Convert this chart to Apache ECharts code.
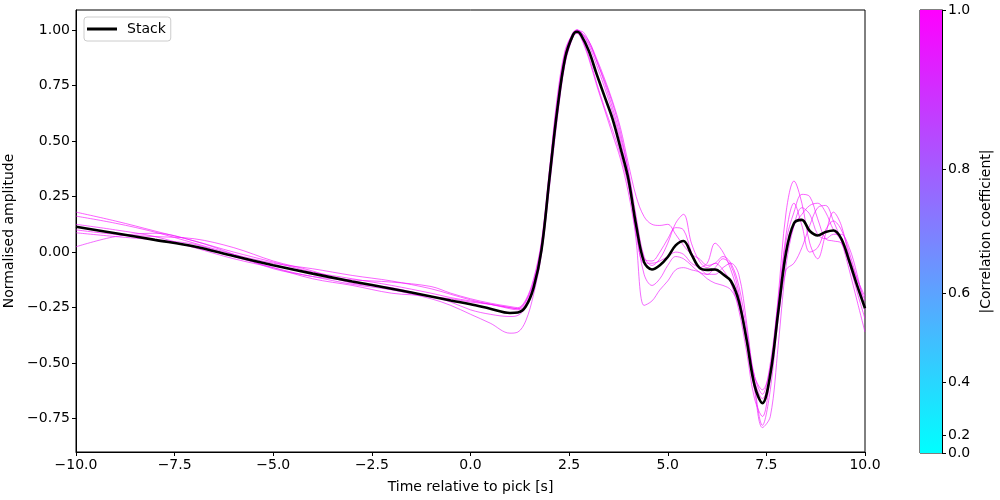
<!DOCTYPE html>
<html>
<head>
<meta charset="utf-8">
<script src="https://cdn.jsdelivr.net/npm/echarts@6/dist/echarts.min.js"></script>
<style>
html,body{margin:0;padding:0;background:#fff;}
#chart{width:1000px;height:500px;}
</style>
</head>
<body>
<div id="chart"></div>
<script>
// Time axis (s relative to pick)
const times = [-10,-9,-8,-7,-6,-5,-4,-3,-2,-1,-0.5,0,0.5,1.0,
  1.2,1.4,1.6,1.8,2.0,2.2,2.4,2.6,2.7,2.8,3.0,3.2,3.4,3.6,3.8,4.0,4.2,4.4,4.6,4.8,5.0,
  5.2,5.4,5.6,5.8,6.0,6.2,6.4,6.6,6.8,7.0,7.2,7.4,7.6,7.8,8.0,8.2,8.4,8.6,8.8,9.0,
  9.2,9.4,9.6,9.8,10.0];

const stack = [0.114,0.085,0.055,0.025,-0.018,-0.059,-0.097,-0.132,-0.165,-0.200,-0.218,-0.235,-0.255,-0.274,
  -0.272,-0.245,-0.16,0.01,0.33,0.64,0.875,0.978,0.992,0.978,0.905,0.80,0.70,0.60,0.47,0.33,0.12,-0.045,-0.078,-0.059,-0.022,
  0.03,0.05,-0.01,-0.07,-0.08,-0.078,-0.10,-0.13,-0.22,-0.396,-0.60,-0.68,-0.55,-0.27,0.0,0.13,0.145,0.095,0.075,0.09,
  0.097,0.06,-0.04,-0.15,-0.253];

const traceA = [0.18,0.14,0.095,0.05,0.0,-0.045,-0.09,-0.12,-0.15,-0.185,-0.205,-0.22,-0.235,-0.255,
  -0.26,-0.235,-0.15,0.03,0.36,0.68,0.90,0.985,1.0,0.99,0.94,0.86,0.76,0.65,0.52,0.37,0.16,-0.02,-0.06,-0.03,0.04,
  0.13,0.17,0.04,-0.04,-0.07,-0.05,-0.08,-0.14,-0.26,-0.45,-0.66,-0.74,-0.55,-0.20,0.18,0.32,0.22,0.04,-0.03,0.08,
  0.18,0.12,-0.02,-0.12,-0.20];
const traceB = [0.162,0.13,0.09,0.04,-0.01,-0.05,-0.075,-0.105,-0.13,-0.165,-0.19,-0.215,-0.235,-0.25,
  -0.255,-0.22,-0.13,0.04,0.34,0.66,0.89,0.99,1.0,0.99,0.95,0.87,0.78,0.68,0.56,0.40,0.25,0.16,0.125,0.12,0.125,
  0.08,0.03,-0.01,-0.03,-0.06,-0.05,-0.02,-0.05,-0.15,-0.35,-0.56,-0.64,-0.50,-0.22,0.05,0.18,0.26,0.25,0.15,0.06,
  0.05,0.04,-0.05,-0.15,-0.24];
const traceC = [0.125,0.10,0.07,0.02,-0.03,-0.07,-0.11,-0.125,-0.135,-0.155,-0.185,-0.21,-0.23,-0.245,
  -0.25,-0.215,-0.12,0.05,0.37,0.70,0.91,0.985,0.995,0.97,0.88,0.76,0.65,0.55,0.44,0.30,0.12,-0.03,-0.04,0.0,0.06,
  0.11,0.10,0.0,-0.07,-0.05,0.04,0.0,-0.08,-0.20,-0.38,-0.56,-0.62,-0.52,-0.26,-0.02,0.12,0.17,0.21,0.22,0.18,
  0.10,0.05,-0.05,-0.18,-0.30];
const traceD = [0.10,0.08,0.07,0.06,0.02,-0.04,-0.085,-0.14,-0.16,-0.20,-0.21,-0.225,-0.235,-0.25,
  -0.255,-0.225,-0.14,0.02,0.32,0.63,0.86,0.97,0.985,0.965,0.87,0.75,0.64,0.53,0.42,0.27,0.08,-0.05,-0.05,-0.04,-0.02,
  0.0,-0.01,-0.05,-0.07,-0.10,-0.07,-0.03,-0.06,-0.18,-0.40,-0.58,-0.66,-0.55,-0.25,0.08,0.22,0.12,0.0,0.02,0.10,
  0.14,0.10,0.0,-0.12,-0.22];
const traceE = [0.087,0.07,0.055,0.035,-0.02,-0.07,-0.12,-0.15,-0.185,-0.20,-0.225,-0.26,-0.28,-0.29,
  -0.285,-0.25,-0.16,0.0,0.31,0.62,0.86,0.98,1.0,0.99,0.93,0.84,0.74,0.63,0.50,0.34,0.10,-0.10,-0.15,-0.12,-0.06,
  -0.02,-0.03,-0.06,-0.09,-0.10,-0.10,-0.07,-0.05,-0.10,-0.32,-0.60,-0.78,-0.62,-0.30,-0.08,-0.05,0.02,0.12,0.20,0.21,
  0.14,0.05,-0.08,-0.22,-0.36];
const traceF = [0.024,0.07,0.085,0.05,-0.01,-0.075,-0.11,-0.145,-0.17,-0.21,-0.24,-0.28,-0.32,-0.365,
  -0.36,-0.31,-0.19,-0.01,0.29,0.60,0.85,0.97,0.995,0.995,0.95,0.86,0.77,0.67,0.54,0.36,0.05,-0.24,-0.22,-0.17,-0.13,
  -0.08,-0.07,-0.08,-0.09,-0.12,-0.14,-0.15,-0.17,-0.24,-0.40,-0.62,-0.79,-0.74,-0.42,-0.06,0.12,0.20,0.17,0.08,0.06,
  0.08,0.08,0.02,-0.10,-0.26];

const traces = [traceA, traceB, traceC, traceD, traceE, traceF];
// |correlation coefficient| of each trace with the stack
const corrs = [0.99, 0.98, 0.98, 0.99, 0.97, 0.96];

const yTicks = [-0.75,-0.5,-0.25,0,0.25,0.5,0.75,1.0];
const cbTickLabels = [0.0,0.2,0.4,0.6,0.8,1.0];

// PowerNorm (gamma = 2) like colour bar
const gamma = 2;
function coolColor(v){
  const f = Math.pow(v, gamma);
  const r = Math.round(255*f), g = Math.round(255*(1-f));
  return 'rgb(' + r + ',' + g + ',255)';
}
const minus = s => s.replace('-', '\u2212');
const font = 'DejaVu Sans';
const fs = 14;

const series = traces.map((tr, i) => ({
  name: 'trace' + (i+1),
  type: 'line',
  xAxisIndex: 0, yAxisIndex: 0,
  data: times.map((t, k) => [t, tr[k]]),
  showSymbol: false,
  smooth: 0.35,
  lineStyle: {color: coolColor(corrs[i]), width: 0.7, opacity: 0.9},
  itemStyle: {color: coolColor(corrs[i])},
  silent: true,
  z: 2
}));
series.push({
  name: 'Stack',
  type: 'line',
  xAxisIndex: 0, yAxisIndex: 0,
  data: times.map((t, k) => [t, stack[k]]),
  showSymbol: false,
  smooth: 0.35,
  lineStyle: {color: '#000', width: 2.6},
  itemStyle: {color: '#000'},
  z: 5
});
series.push({
  name: 'colorbar',
  type: 'bar',
  xAxisIndex: 1, yAxisIndex: 1,
  data: [1],
  barWidth: '100%',
  silent: true,
  itemStyle: {
    color: new echarts.graphic.LinearGradient(0, 1, 0, 0, [
      {offset: 0, color: coolColor(0)},
      {offset: 1, color: coolColor(1)}
    ])
  }
});

const chart = echarts.init(document.getElementById('chart'), null, {renderer: 'canvas'});
chart.setOption({
  animation: false,
  backgroundColor: '#fff',
  textStyle: {fontFamily: font},
  grid: [
    {left: 76, right: 135, top: 10, bottom: 48, show: true, borderColor: '#000', borderWidth: 1,
     containLabel: false, outerBoundsMode: 'none'},
    {left: 920, width: 22, top: 10, bottom: 47, show: true, borderColor: '#000', borderWidth: 1,
     containLabel: false, outerBoundsMode: 'none'}
  ],
  legend: {
    data: [{name: 'Stack', icon: 'rect'}],
    left: 84, top: 17,
    itemWidth: 30, itemHeight: 3, itemGap: 5,
    padding: [5, 5, 5, 3],
    borderColor: '#cccccc', borderWidth: 1, borderRadius: 3,
    textStyle: {fontFamily: font, fontSize: fs, color: '#000', padding: [0,0,0,5]},
    selectedMode: false
  },
  xAxis: [
    {
      type: 'value', gridIndex: 0, min: -10, max: 10, interval: 2.5,
      name: 'Time relative to pick [s]', nameLocation: 'middle', nameGap: 28,
      nameTextStyle: {fontFamily: font, fontSize: fs, color: '#000'},
      axisLine: {show: true, onZero: false, lineStyle: {color: '#000', width: 1}},
      axisTick: {show: true, inside: false, length: 4, lineStyle: {color: '#000'}},
      axisLabel: {fontFamily: font, fontSize: fs, color: '#000', margin: 6,
        formatter: v => minus(v.toFixed(1))},
      splitLine: {show: false}
    },
    {
      type: 'category', gridIndex: 1, data: ['cb'], show: false
    }
  ],
  yAxis: [
    {
      type: 'value', gridIndex: 0, min: -0.9, max: 1.09,
      name: 'Normalised amplitude', nameLocation: 'middle', nameGap: 58,
      nameTextStyle: {fontFamily: font, fontSize: fs, color: '#000'},
      axisLine: {show: true, onZero: false, lineStyle: {color: '#000', width: 1}},
      axisTick: {show: true, inside: false, length: 4, lineStyle: {color: '#000'}, customValues: yTicks},
      axisLabel: {fontFamily: font, fontSize: fs, color: '#000', margin: 6, customValues: yTicks,
        formatter: v => minus(Number(v).toFixed(2))},
      splitLine: {show: false}
    },
    {
      type: 'value', gridIndex: 1, min: 0, max: 1, position: 'right',
      name: '|Correlation coefficient|', nameLocation: 'middle', nameGap: 37, nameRotate: 90,
      nameTextStyle: {fontFamily: font, fontSize: fs, color: '#000'},
      axisLine: {show: true, lineStyle: {color: '#000', width: 1}},
      axisTick: {show: true, inside: false, length: 4, lineStyle: {color: '#000'},
        customValues: cbTickLabels.map(v => Math.pow(v, gamma))},
      axisLabel: {fontFamily: font, fontSize: fs, color: '#000', margin: 6,
        customValues: cbTickLabels.map(v => Math.pow(v, gamma)),
        formatter: v => Math.pow(v, 1/gamma).toFixed(1)},
      splitLine: {show: false}
    }
  ],
  series: series
});
</script>
</body>
</html>
